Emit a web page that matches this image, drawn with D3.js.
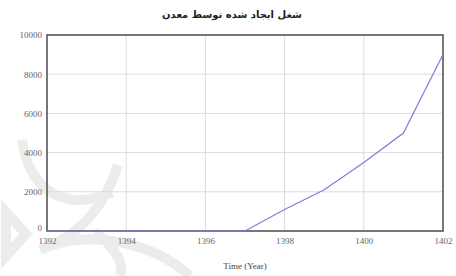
<!DOCTYPE html>
<html lang="en">
<head>
  <meta charset="UTF-8">
  <title>شغل ایجاد شده توسط معدن</title>
  <script src="https://d3js.org/d3.v7.min.js"></script>
  <style>
    body { margin: 0; background: #fff; }
  </style>
</head>
<body>
  <script>
    // data
    const years = [1392, 1393, 1394, 1395, 1396, 1397, 1398, 1399, 1400, 1401, 1402];
    const jobs = [0, 0, 0, 0, 0, 0, 1100, 2100, 3500, 5000, 9000];
    const xTicks = [1392, 1394, 1396, 1398, 1400, 1402];
    const yTicks = [0, 2000, 4000, 6000, 8000, 10000];

    const width = 456, height = 276;
    const margin = { top: 35, right: 13, bottom: 45, left: 47 };

    const svg = d3.select("body").append("svg")
      .attr("width", width)
      .attr("height", height);

    // faint watermark ornament, bottom left
    const wm = svg.append("g")
      .attr("fill", "none")
      .attr("stroke", "#ececec")
      .attr("stroke-width", 10);
    wm.append("path").attr("d", "M22,140 C30,195 70,212 112,192");
    wm.append("path").attr("d", "M118,165 C105,205 82,235 40,250");
    wm.append("path").attr("d", "M6,212 L26,234 L6,256 Z");
    wm.append("path").attr("d", "M50,246 C90,232 150,240 190,276");
    wm.append("path").attr("d", "M95,232 C118,250 124,265 120,276");

    const x = d3.scaleLinear()
      .domain([1392, 1402])
      .range([margin.left, width - margin.right]);
    const y = d3.scaleLinear()
      .domain([0, 10000])
      .range([height - margin.bottom, margin.top]);

    // grid
    svg.append("g")
      .selectAll("line")
      .data(xTicks.slice(1, -1))
      .enter().append("line")
      .attr("x1", d => x(d)).attr("x2", d => x(d))
      .attr("y1", y(10000)).attr("y2", y(0))
      .attr("stroke", "#dcdcdc");
    svg.append("g")
      .selectAll("line")
      .data(yTicks.slice(1, -1))
      .enter().append("line")
      .attr("x1", x(1392)).attr("x2", x(1402))
      .attr("y1", d => y(d)).attr("y2", d => y(d))
      .attr("stroke", "#dcdcdc");

    // axes (labels only)
    const xAxis = svg.append("g")
      .attr("transform", `translate(0,${y(0) + 4})`)
      .attr("font-family", "Liberation Serif, serif")
      .call(d3.axisBottom(x).tickValues(xTicks).tickFormat(d3.format("d")).tickSize(0));
    xAxis.attr("font-family", "Liberation Serif, serif").attr("font-size", 9);
    xAxis.select(".domain").remove();

    const yAxis = svg.append("g")
      .attr("transform", `translate(${x(1392) - 2},0)`)
      .call(d3.axisLeft(y).tickValues(yTicks).tickFormat(d3.format("d")).tickSize(0));
    yAxis.attr("font-family", "Liberation Serif, serif").attr("font-size", 9);
    yAxis.select(".domain").remove();
    yAxis.selectAll(".tick text").attr("dy", d => d === 0 ? "-0.1em" : "0.32em");
    svg.selectAll(".tick text").attr("fill", "#666");

    // frame
    svg.append("rect")
      .attr("x", x(1392)).attr("y", y(10000))
      .attr("width", x(1402) - x(1392))
      .attr("height", y(0) - y(10000))
      .attr("fill", "none")
      .attr("stroke", "#555")
      .attr("stroke-width", 1.6);

    // series
    svg.append("path")
      .datum(years.map((yr, i) => [yr, jobs[i]]))
      .attr("fill", "none")
      .attr("stroke", "#7c7ce0")
      .attr("stroke-width", 1.2)
      .attr("d", d3.line().x(d => x(d[0])).y(d => y(d[1])));

    // title
    svg.append("text")
      .attr("x", 232).attr("y", 18)
      .attr("text-anchor", "middle")
      .attr("font-family", "DejaVu Sans, sans-serif")
      .attr("font-size", 10)
      .attr("font-weight", "bold")
      .attr("fill", "#222")
      .text("شغل ایجاد شده توسط معدن");

    // x axis title
    svg.append("text")
      .attr("x", 245).attr("y", 269)
      .attr("text-anchor", "middle")
      .attr("font-family", "Liberation Serif, serif")
      .attr("font-size", 9)
      .attr("fill", "#444")
      .text("Time (Year)");
  </script>
</body>
</html>
